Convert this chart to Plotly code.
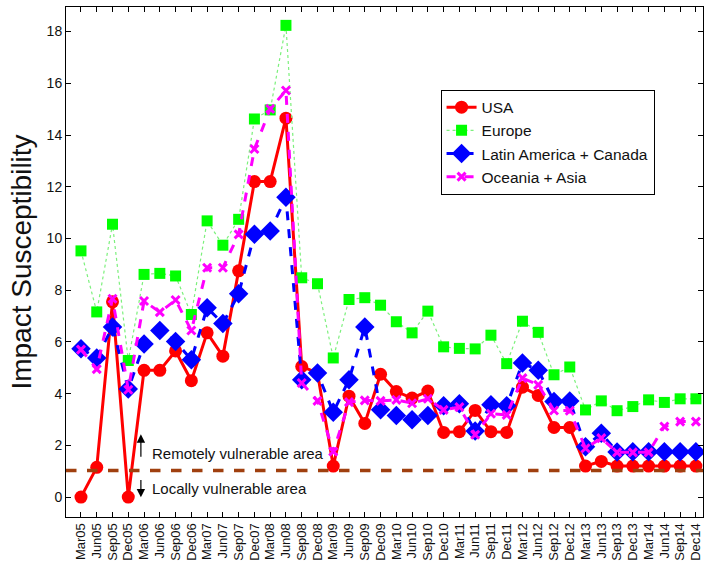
import plotly.graph_objects as go

quarters = []
for yr in range(5, 15):
    for m in ["Mar", "Jun", "Sep", "Dec"]:
        quarters.append(f"{m}{yr:02d}")

usa = [0, 1.15, 7.55, 0, 4.9, 4.9, 5.65, 4.5, 6.35, 5.45,
       8.75, 12.2, 12.2, 14.65, 5.05, 4.8, 1.2, 3.9, 2.85, 4.75,
       4.08, 3.83, 4.1, 2.5, 2.53, 3.35, 2.53, 2.5, 4.25, 3.93,
       2.69, 2.69, 1.2, 1.38, 1.2, 1.2, 1.2, 1.2, 1.2, 1.2]
europe = [9.52, 7.16, 10.55, 5.28, 8.61, 8.65, 8.55, 7.06, 10.68, 9.74,
          10.74, 14.62, 14.97, 18.24, 8.48, 8.25, 5.38, 7.64, 7.71, 7.42,
          6.78, 6.35, 7.19, 5.81, 5.75, 5.73, 6.26, 5.16, 6.80, 6.37,
          4.73, 5.03, 3.37, 3.72, 3.34, 3.50, 3.76, 3.66, 3.80, 3.80]
latin = [5.74, 5.38, 6.58, 4.18, 5.92, 6.44, 6.02, 5.31, 7.32, 6.71,
         7.86, 10.16, 10.29, 11.59, 4.54, 4.80, 3.28, 4.54, 6.58, 3.38,
         3.15, 2.99, 3.15, 3.53, 3.61, 2.56, 3.57, 3.53, 5.18, 4.90,
         3.70, 3.72, 1.95, 2.47, 1.74, 1.75, 1.75, 1.75, 1.75, 1.75]
oceania = [5.70, 4.95, 7.67, 4.15, 7.58, 7.15, 7.62, 6.44, 8.87, 8.87,
           10.16, 13.46, 15.01, 15.72, 4.41, 3.72, 1.76, 3.67, 3.74, 3.72,
           3.76, 3.63, 3.80, 3.37, 3.48, 2.41, 3.22, 3.18, 4.60, 4.34,
           3.35, 3.34, 1.89, 2.28, 1.73, 1.73, 1.73, 2.73, 2.92, 2.92]
threshold = 1.03

y_ticks = list(range(0, 19, 2))

idx = list(range(len(quarters)))

fig = go.Figure()
fig.add_trace(go.Scatter(x=idx, y=usa, name="USA", mode="lines+markers",
                         line=dict(color="#FF0000", width=3),
                         marker=dict(symbol="circle", size=13, color="#FF0000")))
fig.add_trace(go.Scatter(x=idx, y=europe, name="Europe", mode="lines+markers",
                         line=dict(color="#7CF07C", width=1.2, dash="dot"),
                         marker=dict(symbol="square", size=11, color="#00FF00")))
fig.add_trace(go.Scatter(x=idx, y=latin, name="Latin America + Canada", mode="lines+markers",
                         line=dict(color="#0000FF", width=3, dash="dash"),
                         marker=dict(symbol="diamond", size=15, color="#0000FF")))
fig.add_trace(go.Scatter(x=idx, y=oceania, name="Oceania + Asia", mode="lines+markers",
                         line=dict(color="#FF00FF", width=3, dash="dash"),
                         marker=dict(symbol="x-thin", size=8, color="#FF00FF",
                                     line=dict(color="#FF00FF", width=3))))

fig.add_shape(type="line", xref="paper", x0=0, x1=1, yref="y", y0=threshold, y1=threshold,
              line=dict(color="#A0400F", width=3.5, dash="dash"), layer="above")

fig.add_annotation(x=3.8, y=2.43, ax=3.8, ay=1.5, xref="x", yref="y", axref="x", ayref="y",
                   text="", showarrow=True, arrowhead=2, arrowsize=1.4, arrowwidth=1.2,
                   arrowcolor="black")
fig.add_annotation(x=3.8, y=-0.01, ax=3.8, ay=0.72, xref="x", yref="y", axref="x", ayref="y",
                   text="", showarrow=True, arrowhead=2, arrowsize=1.4, arrowwidth=1.2,
                   arrowcolor="black")
fig.add_annotation(x=4.4, y=1.69, xref="x", yref="y", text="Remotely vulnerable area",
                   showarrow=False, xanchor="left", yanchor="middle",
                   font=dict(size=15, color="#111111"))
fig.add_annotation(x=4.4, y=0.34, xref="x", yref="y", text="Locally vulnerable area",
                   showarrow=False, xanchor="left", yanchor="middle",
                   font=dict(size=15, color="#111111"))

fig.update_layout(
    width=705, height=564,
    margin=dict(l=66, r=2, t=7, b=47),
    paper_bgcolor="white", plot_bgcolor="white",
    font=dict(family="Liberation Sans, Arial, sans-serif", size=13, color="#111111"),
    showlegend=True,
    legend=dict(x=0.588, y=0.838, xanchor="left", yanchor="top",
                bordercolor="black", borderwidth=1, bgcolor="white",
                font=dict(size=15.5), tracegroupgap=0, itemwidth=30),
    xaxis=dict(range=[-0.95, 39.45], tickmode="array", tickvals=idx, ticktext=quarters,
               tickangle=-90, ticks="inside", ticklen=5, tickcolor="black",
               showline=True, linecolor="black", linewidth=1, mirror="ticks",
               showgrid=False, zeroline=False, tickfont=dict(size=13), automargin=False),
    yaxis=dict(range=[-0.77, 18.95], tickmode="array", tickvals=y_ticks,
               ticks="inside", ticklen=5, tickcolor="black",
               showline=True, linecolor="black", linewidth=1, mirror="ticks",
               showgrid=False, zeroline=False, tickfont=dict(size=14), automargin=False,
               title=dict(text="Impact Susceptibility", font=dict(size=28), standoff=6)),
)

fig.write_html("out.html", config={"displayModeBar": False},
               post_script="document.body.style.margin='0';")
